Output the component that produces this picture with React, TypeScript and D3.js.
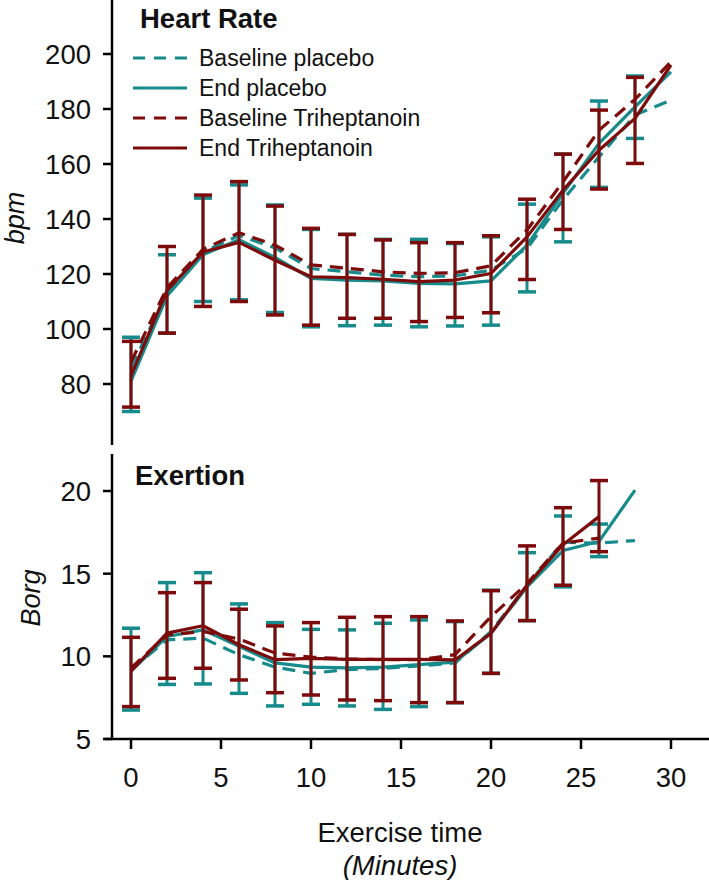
import * as d3 from "d3";

// exercise time points (minutes)
const times = [0, 2, 4, 6, 8, 10, 12, 14, 16, 18, 20, 22, 24, 26, 28, 30];
const xTicks = [0, 5, 10, 15, 20, 25, 30];

// Heart rate (bpm)
const hrBaselinePlacebo = [86, 113, 128, 134, 129.5, 122, 120.8, 119.6, 119, 119.3, 121.4, 129.3, 147, 162.6, 177.8, 183.2];
const hrEndPlacebo = [81, 112, 127, 132.5, 126, 118.4, 117.8, 117.5, 116.6, 116.4, 117.5, 130.5, 149.3, 167.5, 180.8, 193.5];
const hrBaselineTri = [88, 115, 129, 135, 130.5, 123.3, 122.1, 120.8, 120.2, 120.5, 123, 136, 153.5, 172.3, 183.5, 197.2];
const hrEndTri = [83, 114, 128, 131.5, 125, 119, 118.7, 118.1, 117.2, 117.8, 120.2, 133.5, 150.5, 165, 176.6, 196];
// error bar ends (end-of-study series)
const hrEndPlaceboHi = [97, 127, 147.6, 152.4, 145.1, 136.2, 134.4, 132.6, 132.6, 131.1, 133.5, 145.4, 163.6, 182.9, 192];
const hrEndPlaceboLo = [70, 98.5, 110, 110.6, 106, 100.8, 101.2, 101.4, 100.8, 101.1, 101.4, 113.5, 131.7, 151.5, 169.3];
const hrEndTriHi = [95.5, 130, 148.7, 153.6, 144.7, 136.6, 134.4, 132.4, 131.4, 131.4, 133.9, 147.2, 163.6, 179.6, 191.5];
const hrEndTriLo = [71.6, 98.5, 108.2, 110, 105.1, 101.4, 103.9, 103.9, 102.7, 104.2, 105.9, 118, 136.2, 150.9, 160.2];
const hrTicks = [80, 100, 120, 140, 160, 180, 200];

// Exertion (Borg)
const borgBaselinePlacebo = [9.2, 11.0, 11.1, 10.1, 9.35, 8.97, 9.2, 9.27, 9.42, 9.6, 11.5, 14.3, 16.9, 16.85, 17.0];
const borgEndPlacebo = [9.1, 11.2, 11.6, 10.6, 9.6, 9.35, 9.3, 9.35, 9.5, 9.65, 11.4, 14.2, 16.4, 16.95, 20.05];
const borgBaselineTri = [9.3, 11.3, 11.5, 11.05, 10.2, 9.95, 9.85, 9.8, 9.8, 10.1, 12.4, 14.4, 16.85, 17.15, null];
const borgEndTri = [9.1, 11.4, 11.85, 10.7, 9.8, 9.88, 9.82, 9.82, 9.82, 9.78, 11.4, 14.3, 16.75, 18.45, null];
const borgEndPlaceboHi = [11.7, 14.46, 15.06, 13.17, 12.04, 11.63, 11.6, 12.0, 12.2, 12.1, 14, 16.27, 18.49, 18.0];
const borgEndPlaceboLo = [6.75, 8.3, 8.33, 7.76, 7.0, 7.1, 7.0, 6.79, 6.96, 7.2, 8.97, 12.16, 14.2, 16.03];
const borgEndTriHi = [11.15, 13.85, 14.46, 12.85, 11.84, 12.04, 12.36, 12.4, 12.4, 12.14, 13.97, 16.68, 18.99, 20.63];
const borgEndTriLo = [6.96, 8.67, 9.28, 8.57, 7.8, 7.66, 7.36, 7.32, 7.2, 7.2, 8.97, 12.16, 14.3, 16.33];
const borgTicks = [5, 10, 15, 20];

const legendLabels = ["Baseline placebo", "End placebo", "Baseline Triheptanoin", "End Triheptanoin"];

const TEAL = "#178b8b";
const RED = "#7e0b0b";
const FONT = "'Liberation Sans', Arial, sans-serif";

const x = d3.scaleLinear().domain([0, 30]).range([131, 671]);
const yHr = d3.scaleLinear().domain([80, 200]).range([384, 54]);
const yBorg = d3.scaleLinear().domain([5, 20]).range([739, 491]);

type Val = number | null;

function Line({ values, y, color, dashed }: { values: Val[]; y: d3.ScaleLinear<number, number>; color: string; dashed?: boolean }) {
  const gen = d3
    .line<Val>()
    .defined((v) => v != null)
    .x((_, i) => x(times[i]))
    .y((v) => y(v as number));
  return (
    <path
      d={gen(values) || ""}
      fill="none"
      stroke={color}
      strokeWidth={3.2}
      strokeDasharray={dashed ? "13,8" : undefined}
      strokeLinejoin="round"
    />
  );
}

function ErrorBars({ hi, lo, y, color }: { hi: number[]; lo: number[]; y: d3.ScaleLinear<number, number>; color: string }) {
  return (
    <g stroke={color} fill="none">
      {hi.map((h, i) => {
        const cx = x(times[i]);
        return (
          <g key={i}>
            <line x1={cx} x2={cx} y1={y(h)} y2={y(lo[i])} strokeWidth={3} />
            <line x1={cx - 9} x2={cx + 9} y1={y(h)} y2={y(h)} strokeWidth={3.5} />
            <line x1={cx - 9} x2={cx + 9} y1={y(lo[i])} y2={y(lo[i])} strokeWidth={3.5} />
          </g>
        );
      })}
    </g>
  );
}

function T({ x0, y0, children, anchor = "start", size = 27.5, weight = "normal", italic = false }: any) {
  return (
    <text
      x={x0}
      y={y0}
      textAnchor={anchor}
      fontSize={size}
      fontWeight={weight}
      fontStyle={italic ? "italic" : "normal"}
      fontFamily={FONT}
      fill="#111"
    >
      {children}
    </text>
  );
}

function YAxis({ y, ticks, y1, y2 }: { y: d3.ScaleLinear<number, number>; ticks: number[]; y1: number; y2: number }) {
  return (
    <g>
      <line x1={112} x2={112} y1={y1} y2={y2} stroke="#000" strokeWidth={2.5} />
      {ticks.map((t) => (
        <g key={t}>
          <line x1={103} x2={112} y1={y(t)} y2={y(t)} stroke="#000" strokeWidth={2.5} />
          <T x0={91} y0={y(t) + 10} anchor="end">
            {t}
          </T>
        </g>
      ))}
    </g>
  );
}

export default function App() {
  const legendColors = [TEAL, TEAL, RED, RED];
  const legendDashed = [true, false, true, false];
  return (
    <svg width={709} height={880} style={{ position: "absolute", left: 0, top: 0, background: "#fff" }}>
      {/* Heart rate panel */}
      <YAxis y={yHr} ticks={hrTicks} y1={0} y2={445} />
      <T x0={140} y0={28} weight="bold">Heart Rate</T>
      <text transform="translate(24,218) rotate(-90)" textAnchor="middle" fontSize={27} fontStyle="italic" fontFamily={FONT} fill="#111">
        bpm
      </text>
      {legendLabels.map((l, i) => (
        <g key={l}>
          <line
            x1={133}
            x2={187}
            y1={58 + i * 30}
            y2={58 + i * 30}
            stroke={legendColors[i]}
            strokeWidth={3.2}
            strokeDasharray={legendDashed[i] ? "12,9" : undefined}
          />
          <T x0={199} y0={58 + i * 30 + 8} size={23}>
            {l}
          </T>
        </g>
      ))}
      <Line values={hrBaselinePlacebo} y={yHr} color={TEAL} dashed />
      <Line values={hrEndPlacebo} y={yHr} color={TEAL} />
      <ErrorBars hi={hrEndPlaceboHi} lo={hrEndPlaceboLo} y={yHr} color={TEAL} />
      <Line values={hrBaselineTri} y={yHr} color={RED} dashed />
      <Line values={hrEndTri} y={yHr} color={RED} />
      <ErrorBars hi={hrEndTriHi} lo={hrEndTriLo} y={yHr} color={RED} />

      {/* Exertion panel */}
      <YAxis y={yBorg} ticks={borgTicks} y1={454} y2={739} />
      <T x0={135} y0={485} weight="bold">Exertion</T>
      <text transform="translate(40,598) rotate(-90)" textAnchor="middle" fontSize={27} fontStyle="italic" fontFamily={FONT} fill="#111">
        Borg
      </text>
      <Line values={borgBaselinePlacebo} y={yBorg} color={TEAL} dashed />
      <Line values={borgEndPlacebo} y={yBorg} color={TEAL} />
      <ErrorBars hi={borgEndPlaceboHi} lo={borgEndPlaceboLo} y={yBorg} color={TEAL} />
      <Line values={borgBaselineTri} y={yBorg} color={RED} dashed />
      <Line values={borgEndTri} y={yBorg} color={RED} />
      <ErrorBars hi={borgEndTriHi} lo={borgEndTriLo} y={yBorg} color={RED} />

      {/* x axis */}
      <line x1={105} x2={709} y1={739} y2={739} stroke="#000" strokeWidth={2.5} />
      {xTicks.map((t) => (
        <g key={t}>
          <line x1={x(t)} x2={x(t)} y1={739} y2={749} stroke="#000" strokeWidth={2.5} />
          <T x0={x(t)} y0={787} anchor="middle">
            {t}
          </T>
        </g>
      ))}
      <T x0={400} y0={842} anchor="middle">Exercise time</T>
      <T x0={400} y0={875} anchor="middle" italic>(Minutes)</T>
    </svg>
  );
}
